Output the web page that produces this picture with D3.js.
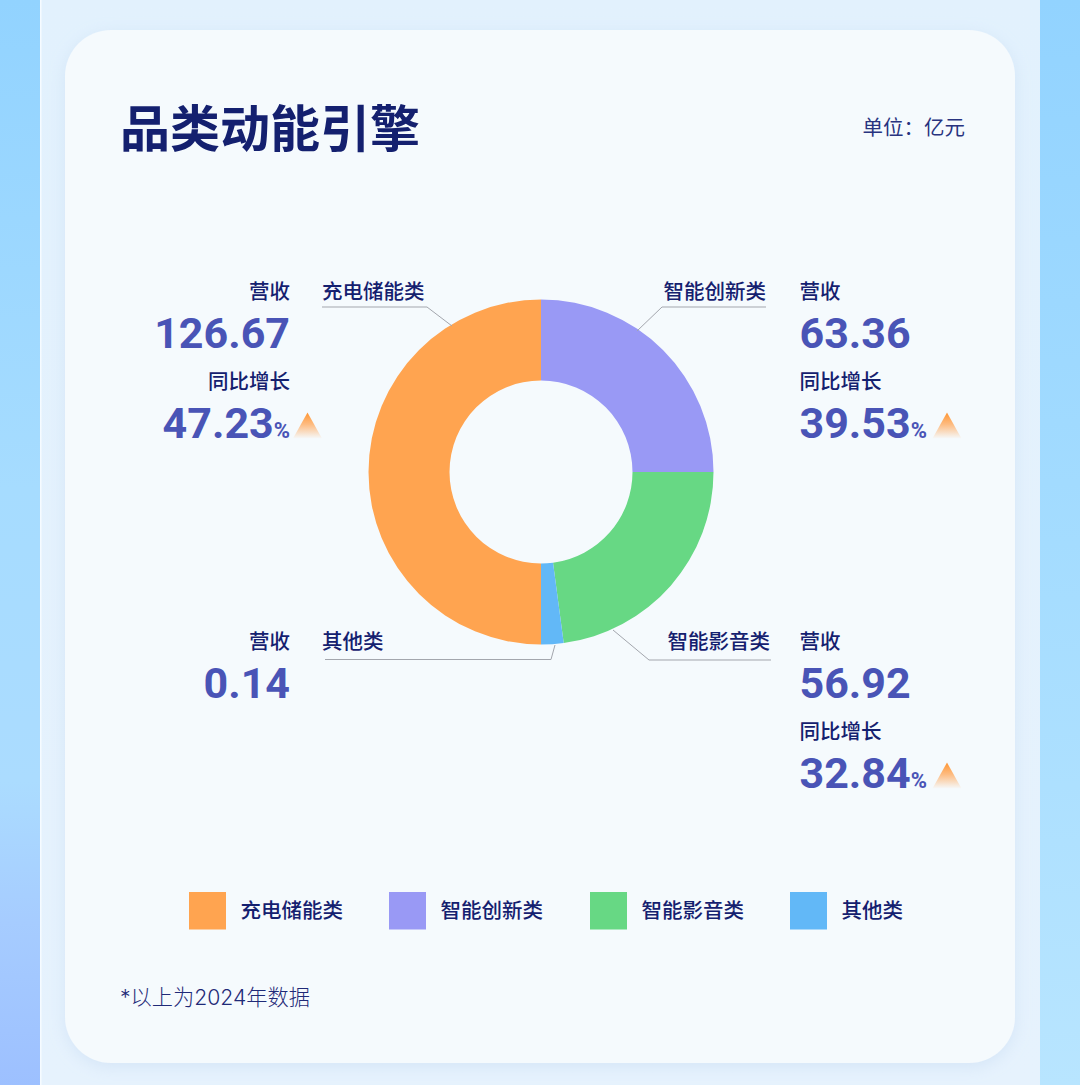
<!DOCTYPE html>
<html><head><meta charset="utf-8">
<script src="https://cdn.jsdelivr.net/npm/d3@7/dist/d3.min.js"></script>
<style>html,body{margin:0;padding:0;background:#e3f1fd;overflow:hidden}svg{display:block}</style>
</head><body><svg id="c" width="1080" height="1085"></svg>
<script>
const categories = ["充电储能类","智能创新类","智能影音类","其他类"];
const shares = [50, 25, 22.9, 2.1];
const revenue = ["126.67","63.36","56.92","0.14"];
const growth = ["47.23","39.53","32.84",null];
const colors = ["#ffa450","#9999f5","#67d884","#62b8f7"];
const title = "品类动能引擎", unit = "单位：亿元", note = "*以上为2024年数据";
const revenueLabel = "营收", growthLabel = "同比增长";

const CJK = "'Noto Sans CJK SC','Noto Sans',sans-serif";
const NUM = "Roboto,'Noto Sans',sans-serif";
const navy = "#14206f", blue = "#4954b6";

const svg = d3.select("#c");
const defs = svg.append("defs");
function vgrad(id, stops, x2=0, y2=1){
  const g = defs.append("linearGradient").attr("id",id).attr("x1",0).attr("y1",0).attr("x2",x2).attr("y2",y2);
  stops.forEach(s=>g.append("stop").attr("offset",s[0]).attr("stop-color",s[1]).attr("stop-opacity",s[2]===undefined?1:s[2]));
}
vgrad("leftStrip",[[0,"#92d3ff"],[0.45,"#a6dcff"],[0.72,"#abdcff"],[0.85,"#a6ccff"],[1,"#9dc0ff"]]);
vgrad("rightStrip",[[0,"#92d3ff"],[0.5,"#a4dcff"],[1,"#b8e5ff"]]);
vgrad("panel",[[0,"#e2f1fd"],[1,"#e6f2fd"]]);
vgrad("tri",[[0,"#ff9430"],[0.45,"#ffb06a",0.85],[1,"#ffb06a",0.02]]);
const shadow = defs.append("filter").attr("id","sh").attr("x","-5%").attr("y","-5%").attr("width","110%").attr("height","110%");
shadow.append("feDropShadow").attr("dx",0).attr("dy",4).attr("stdDeviation",8).attr("flood-color","#bcd3ee").attr("flood-opacity",0.4);

svg.append("rect").attr("width",40).attr("height",1085).attr("fill","url(#leftStrip)");
svg.append("rect").attr("x",1040).attr("width",40).attr("height",1085).attr("fill","url(#rightStrip)");
svg.append("rect").attr("x",40).attr("width",1000).attr("height",1085).attr("fill","url(#panel)");
svg.append("rect").attr("x",40).attr("width",1.5).attr("height",1085).attr("fill","#f6fbff");
svg.append("rect").attr("x",65).attr("y",30).attr("width",950).attr("height",1033).attr("rx",46)
   .attr("fill","#f5fafd").attr("filter","url(#sh)");

function text(x,y,s,size,color,anchor="start",weight=500,family=CJK){
  return svg.append("text").attr("x",x).attr("y",y).attr("font-size",size).attr("fill",color)
    .attr("text-anchor",anchor).attr("font-weight",weight).attr("font-family",family).text(s);
}
text(120,147,title,50,navy,"start",700);
text(965,134.5,unit,20.5,"#28337f","end",400);

// donut
const cx=541, cy=472, R=172.5, r=91.5;
const order=[1,2,3,0];
const pie=d3.pie().sort(null).value(i=>shares[i]);
const arc=d3.arc().innerRadius(r).outerRadius(R);
const g=svg.append("g").attr("transform",`translate(${cx},${cy})`);
g.selectAll("path").data(pie(order)).join("path").attr("d",arc).attr("fill",d=>colors[d.data]);

// leader lines
const leaders=[
 {i:0,pts:[[322,307],[427,307],[452,326]]},
 {i:1,pts:[[766,307],[662,307],[637,331]]},
 {i:2,pts:[[771,660],[649,660],[613,630]]},
 {i:3,pts:[[325,659.5],[551,659.5],[555,645]]}
];
const line=d3.line();
leaders.forEach(l=>svg.append("path").attr("d",line(l.pts)).attr("fill","none").attr("stroke","#a3a6ad").attr("stroke-width",1));

const LS=20.5;
text(322,298.5,categories[0],LS,navy);
text(766,298.5,categories[1],LS,navy,"end");
text(770,649,categories[2],LS,navy,"end");
text(322,648.5,categories[3],LS,navy);

function tri(x,base){
  const pts=[[x,base-26],[x+14.5,base],[x-14.5,base]];
  svg.append("path").attr("d",line(pts)+"Z").attr("fill","url(#tri)");
}
const NS=43, PS=22;
function pct(t,i){
  t.append("tspan").text(growth[i]);
  t.append("tspan").attr("font-size",PS).text("%");
}
function blockRight(x,y0,i){
  text(x,y0+0.5,revenueLabel,LS,navy,"end");
  text(x,y0+50,revenue[i],NS,blue,"end",700,NUM);
  if(growth[i]){
    text(x,y0+90.5,growthLabel,LS,navy,"end");
    pct(text(x,y0+140,"",NS,blue,"end",700,NUM),i);
    tri(x+17.5,y0+140.5);
  }
}
function blockLeft(x,y0,i){
  text(x,y0+0.5,revenueLabel,LS,navy);
  text(x,y0+50,revenue[i],NS,blue,"start",700,NUM);
  text(x,y0+90.5,growthLabel,LS,navy);
  pct(text(x,y0+140,"",NS,blue,"start",700,NUM),i);
  tri(x+147.5,y0+140.5);
}
blockRight(290,298,0);
blockLeft(799.5,298,1);
blockLeft(799.5,648,2);
blockRight(290,648,3);

// legend
const lx=[189,389,590,790];
categories.forEach((c,i)=>{
  svg.append("rect").attr("x",lx[i]).attr("y",892).attr("width",37).attr("height",37.5).attr("fill",colors[i]);
  text(lx[i]+51.5,918,c,LS,navy);
});
text(120,1004.5,note,21.2,"#1f2a78","start",300,"Inter,'Noto Sans CJK SC',sans-serif");
</script></body></html>
